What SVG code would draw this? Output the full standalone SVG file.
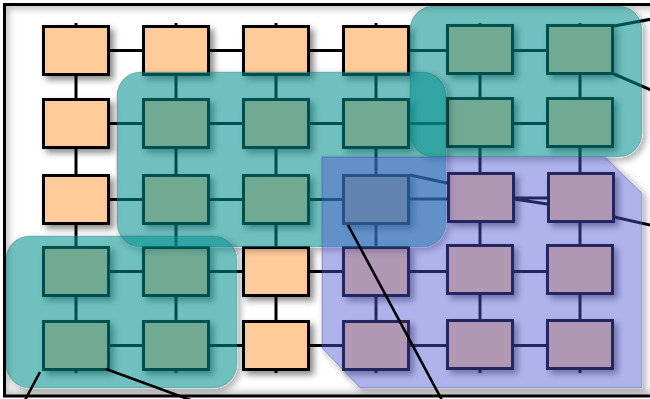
<svg xmlns="http://www.w3.org/2000/svg" width="650" height="399" viewBox="0 0 650 399">
  <defs>
    <style>
      .node { fill: #FFCC99; stroke: #000; stroke-width: 3; filter: url(#boxShadow); }
      .link { fill: none; stroke: #000; stroke-width: 3; }
      .lead { fill: none; stroke: #000; stroke-width: 2.6; }
      .teal { fill: #008E8E; fill-opacity: 0.555; stroke: #004848; stroke-opacity: 0.25; stroke-width: 1.2; filter: url(#zoneShadow); }
      .blue { fill: #5058D3; fill-opacity: 0.45; stroke: #3A3C78; stroke-opacity: 0.3; stroke-width: 1.5; filter: url(#zoneShadow); }
    </style>
    <filter id="boxShadow" x="-20%" y="-20%" width="150%" height="150%">
      <feDropShadow dx="4" dy="4" stdDeviation="3" flood-color="#000" flood-opacity="0.45"/>
    </filter>
    <!-- shadow kept outside the translucent zone shapes only -->
    <filter id="zoneShadow" x="-10%" y="-10%" width="125%" height="125%">
      <feComponentTransfer in="SourceAlpha" result="solid">
        <feFuncA type="linear" slope="20"/>
      </feComponentTransfer>
      <feGaussianBlur in="solid" stdDeviation="3" result="b"/>
      <feOffset in="b" dx="3" dy="3" result="o"/>
      <feComponentTransfer in="o" result="oa">
        <feFuncA type="linear" slope="0.3"/>
      </feComponentTransfer>
      <feComposite in="oa" in2="solid" operator="out" result="s"/>
      <feMerge>
        <feMergeNode in="s"/>
        <feMergeNode in="SourceGraphic"/>
      </feMerge>
    </filter>
    <filter id="soft" x="-5%" y="-5%" width="110%" height="110%">
      <feGaussianBlur stdDeviation="3"/>
    </filter>
    <clipPath id="frameClip">
      <rect x="4.5" y="4.5" width="660" height="391.5"/>
    </clipPath>
  </defs>

  <!-- canvas frame with inner shading -->
  <rect x="0" y="0" width="650" height="399" fill="#fff"/>
  <g clip-path="url(#frameClip)">
    <rect x="4.5" y="4.5" width="660" height="391.5" fill="none" stroke="#000" stroke-opacity="0.22" stroke-width="10" filter="url(#soft)"/>
  </g>

  <!-- mesh links -->
  <g id="connectors" class="link">
    <!-- vertical links per column -->
    <path d="M76 23V373M176 23V373M276 23V373M376 23V373M480 23V373M580 23V373"/>
    <!-- horizontal links per row -->
    <path d="M76 50.5H580"/>
    <path d="M76 123.5H580"/>
    <path d="M76 199.5H410M410 199H447M410 175L447 183M514 198L547 198M514 199L547 204"/>
    <path d="M76 271.5H580"/>
    <path d="M76 345.5H580"/>
    <!-- links leaving to the right -->
    <path d="M614 26L652 19M614 74L652 90.5M614 217L652 225.5"/>
  </g>

  <!-- nodes: row 1 -->
  <g id="n11"><rect class="node" x="43.5" y="26.5" width="65" height="48"/></g>
  <g id="n12"><rect class="node" x="143.5" y="26.5" width="65" height="48"/></g>
  <g id="n13"><rect class="node" x="243.5" y="26.5" width="65" height="48"/></g>
  <g id="n14"><rect class="node" x="343.5" y="26.5" width="65" height="48"/></g>
  <g id="n15"><rect class="node" x="447.5" y="25.5" width="65" height="48"/></g>
  <g id="n16"><rect class="node" x="547.5" y="25.5" width="65" height="48"/></g>
  <!-- row 2 -->
  <g id="n21"><rect class="node" x="43.5" y="99.5" width="65" height="48"/></g>
  <g id="n22"><rect class="node" x="143.5" y="99.5" width="65" height="48"/></g>
  <g id="n23"><rect class="node" x="243.5" y="99.5" width="65" height="48"/></g>
  <g id="n24"><rect class="node" x="343.5" y="99.5" width="65" height="48"/></g>
  <g id="n25"><rect class="node" x="447.5" y="98.5" width="65" height="48"/></g>
  <g id="n26"><rect class="node" x="547.5" y="98.5" width="65" height="48"/></g>
  <!-- row 3 -->
  <g id="n31"><rect class="node" x="43.5" y="175.5" width="65" height="48"/></g>
  <g id="n32"><rect class="node" x="143.5" y="175.5" width="65" height="48"/></g>
  <g id="n33"><rect class="node" x="243.5" y="175.5" width="65" height="48"/></g>
  <g id="n34"><rect class="node" x="343.5" y="175.5" width="65" height="48"/></g>
  <g id="n35"><rect class="node" x="448.5" y="173.5" width="65" height="48"/></g>
  <g id="n36"><rect class="node" x="548.5" y="173.5" width="65" height="48"/></g>
  <!-- row 4 -->
  <g id="n41"><rect class="node" x="43.5" y="247.5" width="65" height="48"/></g>
  <g id="n42"><rect class="node" x="143.5" y="247.5" width="65" height="48"/></g>
  <g id="n43"><rect class="node" x="243.5" y="247.5" width="65" height="48"/></g>
  <g id="n44"><rect class="node" x="343.5" y="247.5" width="65" height="48"/></g>
  <g id="n45"><rect class="node" x="447.5" y="245.5" width="65" height="48"/></g>
  <g id="n46"><rect class="node" x="547.5" y="245.5" width="65" height="48"/></g>
  <!-- row 5 -->
  <g id="n51"><rect class="node" x="43.5" y="321.5" width="65" height="48"/></g>
  <g id="n52"><rect class="node" x="143.5" y="321.5" width="65" height="48"/></g>
  <g id="n53"><rect class="node" x="243.5" y="321.5" width="65" height="48"/></g>
  <g id="n54"><rect class="node" x="343.5" y="321.5" width="65" height="48"/></g>
  <g id="n55"><rect class="node" x="447.5" y="320.5" width="65" height="48"/></g>
  <g id="n56"><rect class="node" x="547.5" y="320.5" width="65" height="48"/></g>

  <!-- translucent zones -->
  <g id="zone-top-right"><rect class="teal" x="410" y="6" width="232" height="151" rx="24"/></g>
  <g id="zone-middle"><rect class="teal" x="117" y="72" width="329" height="175" rx="24"/></g>
  <g id="zone-bottom-left"><rect class="teal" x="6" y="236" width="231" height="152" rx="24"/></g>
  <g id="zone-blue"><path class="blue" d="M322 157H605L642 193V388H360L322 348Z"/></g>

  <!-- leader lines -->
  <g id="leaders" class="lead">
    <path d="M348 225L443 402"/>
    <path d="M40 372L24 402"/>
    <path d="M106 369L196 402"/>
  </g>

  <!-- frame border -->
  <rect x="4.5" y="4.5" width="660" height="391.5" fill="none" stroke="#000" stroke-width="3"/>
</svg>
